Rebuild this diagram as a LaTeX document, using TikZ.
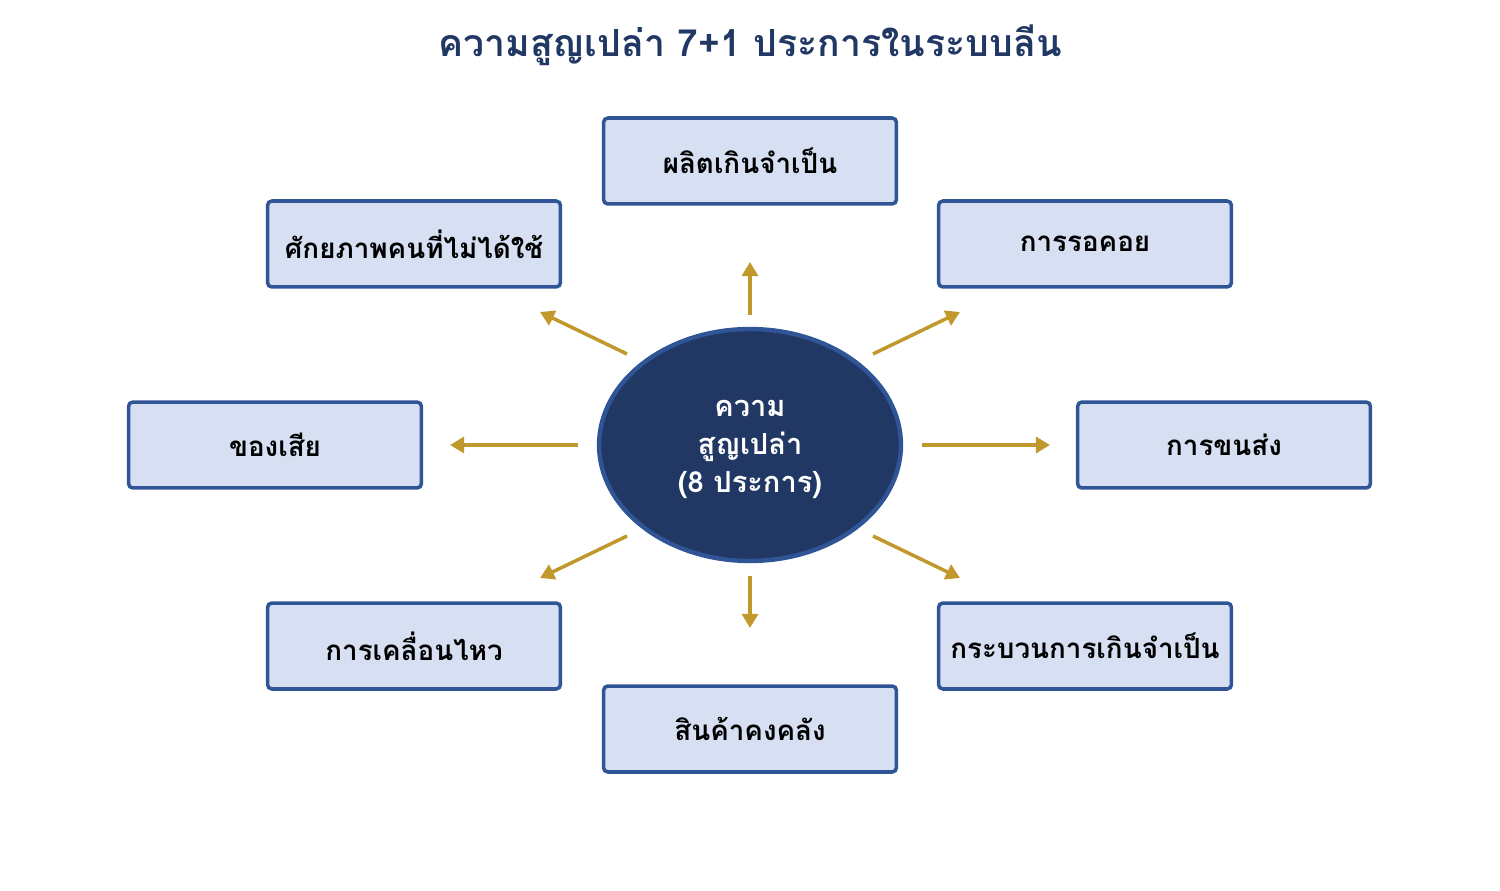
\documentclass[tikz,border=0pt]{standalone}
\usepackage{fontspec}
\setmainfont[Script=Thai]{Loma}
\usetikzlibrary{shapes.geometric,arrows.meta}
\begin{document}
\begin{tikzpicture}[x=0.02cm, y=-0.02cm]
    \definecolor{mynavy}{RGB}{33,56,100}
    \definecolor{myedge}{RGB}{47,85,151}
    \definecolor{mybox}{RGB}{214,224,242}
    \definecolor{mygold}{RGB}{192,152,44}
    \tikzset{
        wastebox/.style={draw=myedge, fill=mybox, line width=2pt, rounded corners=2.5pt,
            minimum width=5.86cm, minimum height=1.72cm, font=\bfseries\fontsize{15.8}{18}\selectfont},
        wastearrow/.style={mygold, line width=2pt, -{Triangle[length=8pt,width=9pt]}}
    }
    \useasboundingbox (0,0) rectangle (1500,891);

    \node[mynavy, font=\bfseries\fontsize{21.3}{24}\selectfont] (title) at (750,45) {ความสูญเปล่า 7+1 ประการในระบบลีน};

    \node[ellipse, draw=myedge, fill=mynavy, line width=2.5pt, minimum width=6.04cm, minimum height=4.64cm,
        text=white, align=center, font=\bfseries\fontsize{16.5}{21.5}\selectfont] (waste) at (750,445) {};
    \node[text=white, align=center, font=\bfseries\fontsize{16.5}{21.5}\selectfont, yshift=-2.5pt] (wastetext) at (waste.center)
        {ความ\\สูญเปล่า\\(8 ประการ)};

    \node[wastebox] (over)   at (750,161)  {ผลิตเกินจำเป็น};
    \node[wastebox] (people) at (414,244)  {ศักยภาพคนที่ไม่ได้ใช้};
    \node[wastebox] (wait)   at (1085,244) {การรอคอย};
    \node[wastebox] (defect) at (275,445)  {ของเสีย};
    \node[wastebox] (trans)  at (1224,445) {การขนส่ง};
    \node[wastebox] (motion) at (414,646)  {การเคลื่อนไหว};
    \node[wastebox] (proc)   at (1085,646) {กระบวนการเกินจำเป็น};
    \node[wastebox] (stock)  at (750,729)  {สินค้าคงคลัง};

    % free ends of the arrows
    \coordinate (a1) at (750,315); \coordinate (b1) at (750,262);
    \coordinate (a2) at (627,354); \coordinate (b2) at (540,312);
    \coordinate (a3) at (873,354); \coordinate (b3) at (960,312);
    \coordinate (a4) at (578,445); \coordinate (b4) at (450,445);
    \coordinate (a5) at (922,445); \coordinate (b5) at (1050,445);
    \coordinate (a6) at (627,536); \coordinate (b6) at (540,578);
    \coordinate (a7) at (873,536); \coordinate (b7) at (960,578);
    \coordinate (a8) at (750,576); \coordinate (b8) at (750,628);

    \foreach \i in {1,...,8}
        \draw[wastearrow] (a\i) -- (b\i);
\end{tikzpicture}
\end{document}
